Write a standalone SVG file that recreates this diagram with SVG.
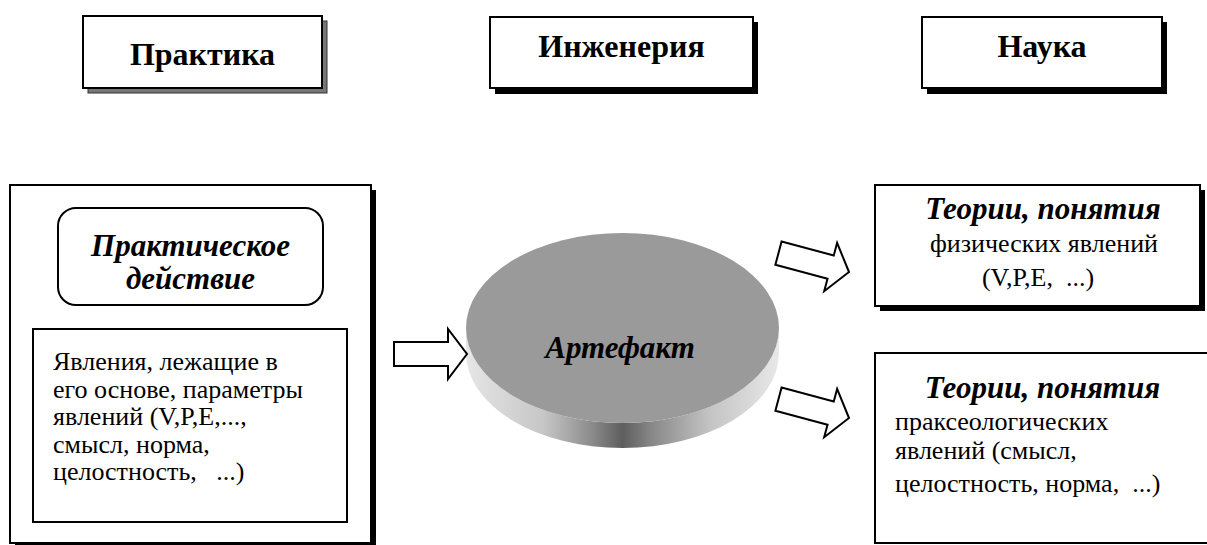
<svg xmlns="http://www.w3.org/2000/svg" width="1207" height="545" viewBox="0 0 1207 545">
<defs>
<style>
.box{fill:#fff;stroke:#000;stroke-width:2}
.sh{fill:#000}
.shg{fill:#777;stroke:#333;stroke-width:1}
.hd{font-family:"Liberation Serif","Times New Roman",serif;font-weight:bold;font-size:32px;fill:#000}
.bi{font-family:"Liberation Serif","Times New Roman",serif;font-weight:bold;font-style:italic;font-size:31px;fill:#000}
.tx{font-family:"Liberation Serif","Times New Roman",serif;font-size:26px;fill:#000}
.arr{fill:#fff;stroke:#000;stroke-width:2;stroke-linejoin:miter}
</style>
<linearGradient id="side" x1="466" y1="0" x2="779" y2="0" gradientUnits="userSpaceOnUse">
<stop offset="0" stop-color="#e6e6e6"/>
<stop offset="0.25" stop-color="#c6c6c6"/>
<stop offset="0.4" stop-color="#8c8c8c"/>
<stop offset="0.5" stop-color="#5e5e5e"/>
<stop offset="0.6" stop-color="#8a8a8a"/>
<stop offset="0.78" stop-color="#c4c4c4"/>
<stop offset="1" stop-color="#e8e8e8"/>
</linearGradient>
<path id="arrow" d="M-73,-12 L-19,-12 L-19,-25 L0,0 L-19,25 L-19,12 L-73,12 Z"/>
</defs>
<rect width="1207" height="545" fill="#fff"/>

<g id="praktika">
<rect class="shg" x="88" y="21" width="239" height="72"/>
<rect class="box" x="83" y="16" width="239" height="72"/>
<text class="hd" x="202.5" y="65" text-anchor="middle">Практика</text>
</g>

<g id="inzheneriya">
<rect class="sh" x="495" y="22" width="263" height="72"/>
<rect class="box" x="490" y="17" width="263" height="71"/>
<text class="hd" x="621.5" y="57" text-anchor="middle">Инженерия</text>
</g>

<g id="nauka">
<rect class="sh" x="927" y="22" width="240" height="72"/>
<rect class="box" x="922" y="17" width="240" height="71"/>
<text class="hd" x="1042" y="57" text-anchor="middle">Наука</text>
</g>

<g id="practice-block">
<rect class="sh" x="15" y="190" width="361" height="360"/>
<rect class="box" x="10" y="185" width="361" height="358"/>
<rect class="box" x="58" y="208" width="265" height="97" rx="18" ry="18"/>
<text class="bi" x="190.5" y="256" text-anchor="middle">Практическое</text>
<text class="bi" x="190.5" y="289" text-anchor="middle">действие</text>
<rect class="box" x="33" y="329" width="314" height="193"/>
<text class="tx" x="53" y="370">Явления, лежащие в</text>
<text class="tx" x="53" y="397.5">его основе, параметры</text>
<text class="tx" x="53" y="425">явлений (V,P,E,...,</text>
<text class="tx" x="53" y="452.5">смысл, норма,</text>
<text class="tx" x="53" y="480" xml:space="preserve">целостность,   ...)</text>
</g>

<g id="artefakt">
<path d="M466,328 L466,353 A156.5,95 0 0 0 779,353 L779,328 A156.5,95 0 0 1 466,328 Z" fill="url(#side)"/>
<ellipse cx="622.5" cy="328" rx="156.5" ry="95" fill="#9a9a9a"/>
<text class="bi" x="620" y="358" text-anchor="middle">Артефакт</text>
</g>

<g id="theory-physics">
<rect class="sh" x="880" y="190" width="325" height="121"/>
<rect class="box" x="875" y="185" width="325" height="121"/>
<text class="bi" x="1043" y="219" text-anchor="middle">Теории, понятия</text>
<text class="tx" x="1044" y="252" text-anchor="middle">физических явлений</text>
<text class="tx" x="1038" y="286" text-anchor="middle" xml:space="preserve">(V,P,E,  ...)</text>
</g>

<g id="theory-praxeology">
<rect class="box" x="875" y="353" width="335" height="190"/>
<text class="bi" x="1042.5" y="398" text-anchor="middle">Теории, понятия</text>
<text class="tx" x="895" y="430">праксеологических</text>
<text class="tx" x="895" y="459">явлений (смысл,</text>
<text class="tx" x="895" y="492" xml:space="preserve">целостность, норма,  ...)</text>
</g>

<g id="connectors">
<use href="#arrow" class="arr" transform="translate(467,354)"/>
<use href="#arrow" class="arr" transform="translate(849,272) rotate(15)"/>
<use href="#arrow" class="arr" transform="translate(849,418) rotate(15)"/>
</g>
</svg>
